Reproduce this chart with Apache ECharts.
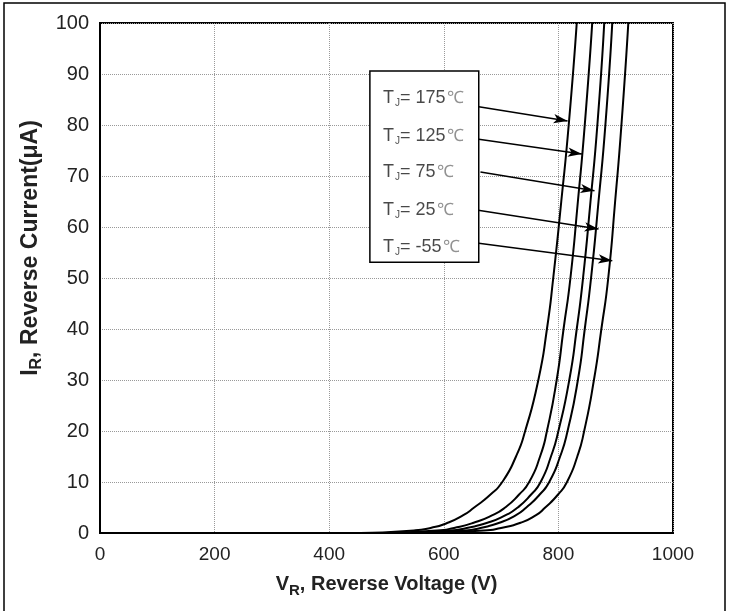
<!DOCTYPE html>
<html>
<head>
<meta charset="utf-8">
<script src="https://cdn.jsdelivr.net/npm/echarts@6/dist/echarts.min.js"></script>
<style>
  html, body { margin: 0; padding: 0; background: #fff; }
  #chart { width: 733px; height: 611px; }
</style>
</head>
<body>
<div id="chart"></div>
<script>
    // shared current levels (uA), one voltage list per junction temperature
    var currents = [0, 0, 0.5, 1, 2, 3.5, 5, 7.5, 10, 15, 20, 30, 40, 50, 65, 80, 100];
    var v175 = [0, 430, 548, 577, 607, 634, 653, 681, 702, 726, 742, 765, 780, 791, 805, 818, 832];
    var v125 = [0, 460, 588, 618, 652, 685, 707, 731, 749, 768, 780, 797, 809, 821, 834, 846, 859];
    var v75  = [0, 480, 612, 640, 676, 708, 729, 752, 769, 787, 800, 819, 832, 843, 856, 868, 880];
    var v25  = [0, 500, 638, 664, 697, 726, 744, 767, 784, 803, 816, 834, 846, 857, 870, 882, 894];
    var vm55 = [0, 520, 670, 700, 734, 761, 777, 799, 815, 833, 845, 862, 875, 887, 899, 910, 922];

    var xTicks = [0, 200, 400, 600, 800, 1000];
    var yTicks = [0, 10, 20, 30, 40, 50, 60, 70, 80, 90, 100];

    // annotation box with labels and arrows (data coords)
    var tempLabels = ['175', '125', '75', '25', '-55'];
    var labelV = 494;
    var labelI = [85.3, 77.8, 70.8, 63.3, 56.1];
    var arrowFrom = [[661, 83.6], [661, 77.2], [664, 70.8], [660, 63.3], [661, 56.8]];
    var arrowTo = [[816, 80.8], [841, 74.3], [863, 67.1], [870, 59.6], [894, 53.4]];
    var boxCorners = [[471, 90.6], [661, 53.1]];

    var curves = [v175, v125, v75, v25, vm55];

    function pairs(volts) {
        return volts.map(function (v, i) { return [v, currents[i]]; });
    }

    var font = "'Liberation Sans', Arial, sans-serif";

    var series = curves.map(function (v, k) {
        return {
            name: 'TJ=' + tempLabels[k],
            type: 'line',
            data: pairs(v),
            smooth: 0.6,
            showSymbol: false,
            symbol: 'none',
            lineStyle: { color: '#000', width: 2 },
            z: 3
        };
    });

    series.push({
        type: 'scatter',
        symbolSize: 0,
        z: 6,
        silent: true,
        data: tempLabels.map(function (t, i) { return [labelV, labelI[i], t]; }),
        label: {
            show: true,
            position: 'right',
            distance: 0,
            formatter: function (p) {
                return '{t|T}{s|J}{t|= ' + p.data[2] + '}{c|℃}';
            },
            rich: {
                t: { fontFamily: font, fontSize: 18, color: '#1a1a1a' },
                s: { fontFamily: font, fontSize: 10, color: '#1a1a1a', padding: [11, 0, 0, 1] },
                c: { fontFamily: font, fontSize: 17, color: '#777', padding: [0, 0, 0, 1] }
            }
        },
        markArea: {
            silent: true,
            itemStyle: { color: '#fff', borderColor: '#000', borderWidth: 1.5 },
            data: [[{ coord: boxCorners[0] }, { coord: boxCorners[1] }]]
        },
        markLine: {
            silent: true,
            symbol: ['none', 'arrow'],
            symbolSize: [7, 14],
            label: { show: false },
            lineStyle: { color: '#000', width: 1.5, type: 'solid' },
            data: arrowFrom.map(function (a, i) {
                return [{ coord: a }, { coord: arrowTo[i] }];
            })
        }
    });

    var chart = echarts.init(document.getElementById('chart'));
    chart.setOption({
        animation: false,
        backgroundColor: '#fff',
        graphic: [{
            type: 'rect',
            shape: { x: 4, y: 3, width: 721, height: 620 },
            style: { fill: 'none', stroke: '#000', lineWidth: 1.5 },
            silent: true
        }],
        grid: {
            left: 100, right: 60, top: 23, bottom: 78,
            show: true, borderColor: '#000', borderWidth: 2
        },
        xAxis: {
            type: 'value',
            min: xTicks[0], max: xTicks[xTicks.length - 1], interval: 200,
            name: '{b|V}{sub|R}{b|, Reverse Voltage (V)}',
            nameLocation: 'middle',
            nameGap: 38,
            nameTextStyle: {
                rich: {
                    b: { fontFamily: font, fontWeight: 'bold', fontSize: 20, color: '#222' },
                    sub: { fontFamily: font, fontWeight: 'bold', fontSize: 15, color: '#222', padding: [12, 0, 0, 0] }
                }
            },
            axisLine: { lineStyle: { color: '#000', width: 2 } },
            axisTick: { show: false },
            axisLabel: {
                fontFamily: font, fontSize: 19, color: '#222', margin: 12,
                formatter: function (v) { return String(v); }
            },
            splitLine: { show: true, lineStyle: { color: '#999', type: 'dotted', width: 1 } }
        },
        yAxis: {
            type: 'value',
            min: yTicks[0], max: yTicks[yTicks.length - 1], interval: 10,
            name: '{b|I}{sub|R}{b|, Reverse Current(μA)}',
            nameLocation: 'middle',
            nameGap: 46,
            nameTextStyle: {
                padding: [0, 0, 0, 60],
                rich: {
                    b: { fontFamily: font, fontWeight: 'bold', fontSize: 23, color: '#222' },
                    sub: { fontFamily: font, fontWeight: 'bold', fontSize: 16, color: '#222', padding: [13, 0, 0, 0] }
                }
            },
            axisLine: { lineStyle: { color: '#000', width: 2 } },
            axisTick: { show: false },
            axisLabel: { fontFamily: font, fontSize: 20, color: '#222', margin: 11 },
            splitLine: { show: true, lineStyle: { color: '#999', type: 'dotted', width: 1 } }
        },
        series: series
    });
</script>
</body>
</html>
